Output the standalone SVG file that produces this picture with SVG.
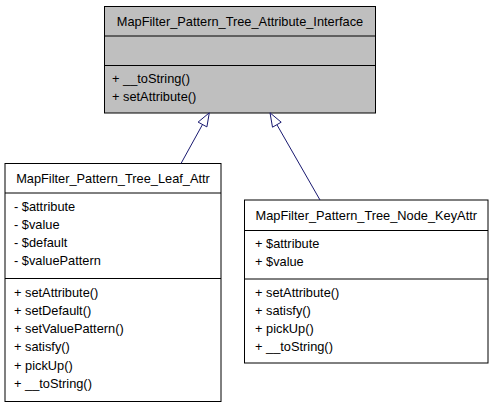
<svg xmlns="http://www.w3.org/2000/svg" width="493" height="408" viewBox="0 0 493 408">
  <style>
    text { font-family: "Liberation Sans", Arial, sans-serif; font-size: 12.8px; fill: #000; }
    .title { text-anchor: middle; }
    .box { fill: #ffffff; stroke: #000; stroke-width: 1; }
    .base { fill: #bfbfbf; stroke: #000; stroke-width: 1; }
    .sep { stroke: #000; stroke-width: 1; }
    .edge { stroke: #191970; stroke-width: 1; fill: none; }
    .head { stroke: #191970; stroke-width: 1; fill: #ffffff; }
  </style>
  <rect width="493" height="408" fill="#ffffff"/>

  <!-- base interface -->
  <g id="node-attribute-interface">
    <rect class="base" x="104.5" y="6.5" width="271" height="106.5"/>
    <line class="sep" x1="104.5" y1="36" x2="375.5" y2="36"/>
    <line class="sep" x1="104.5" y1="65.5" x2="375.5" y2="65.5"/>
    <text class="title" x="240" y="25.5">MapFilter_Pattern_Tree_Attribute_Interface</text>
    <text x="112" y="83">+ __toString()</text>
    <text x="112" y="101">+ setAttribute()</text>
  </g>

  <!-- leaf attribute class -->
  <g id="node-leaf-attr">
    <rect class="box" x="5" y="163.5" width="216" height="238"/>
    <line class="sep" x1="5" y1="193" x2="221" y2="193"/>
    <line class="sep" x1="5" y1="278.5" x2="221" y2="278.5"/>
    <text class="title" x="113" y="182.5">MapFilter_Pattern_Tree_Leaf_Attr</text>
    <text x="14" y="210.5">- $attribute</text>
    <text x="14" y="228.8">- $value</text>
    <text x="14" y="247">- $default</text>
    <text x="14" y="265.3">- $valuePattern</text>
    <text x="14" y="296.5">+ setAttribute()</text>
    <text x="14" y="314.8">+ setDefault()</text>
    <text x="14" y="333">+ setValuePattern()</text>
    <text x="14" y="351.3">+ satisfy()</text>
    <text x="14" y="369.6">+ pickUp()</text>
    <text x="14" y="388">+ __toString()</text>
  </g>

  <!-- node key attribute class -->
  <g id="node-keyattr">
    <rect class="box" x="244.5" y="200" width="243.5" height="163"/>
    <line class="sep" x1="244.5" y1="230.5" x2="488" y2="230.5"/>
    <line class="sep" x1="244.5" y1="279" x2="488" y2="279"/>
    <text class="title" x="366.3" y="219.5">MapFilter_Pattern_Tree_Node_KeyAttr</text>
    <text x="255" y="247.5">+ $attribute</text>
    <text x="255" y="265.8">+ $value</text>
    <text x="255" y="296.5">+ setAttribute()</text>
    <text x="255" y="314.8">+ satisfy()</text>
    <text x="255" y="333">+ pickUp()</text>
    <text x="255" y="351.3">+ __toString()</text>
  </g>

  <!-- inheritance edges -->
  <g id="edges">
    <line class="edge" x1="181" y1="163.5" x2="202.5" y2="124.5"/>
    <polygon class="head" points="209.3,112.8 206.9,126.9 198.1,122.1"/>
    <line class="edge" x1="320" y1="200" x2="276.9" y2="124.7"/>
    <polygon class="head" points="270,112.8 281.2,122.2 272.5,127.2"/>
  </g>
</svg>
